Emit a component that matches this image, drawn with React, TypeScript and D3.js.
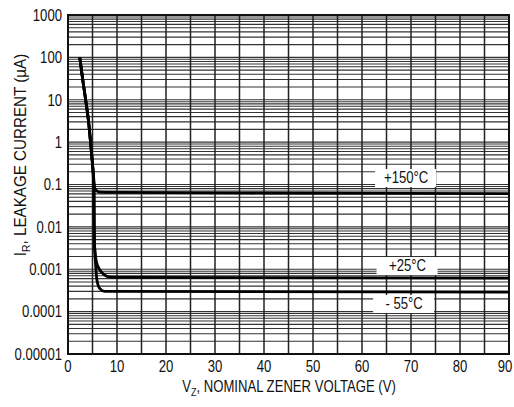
import React from "react";
import * as d3 from "d3";

// ---- data ----
const xTickValues = [0, 10, 20, 30, 40, 50, 60, 70, 80, 90];
const xGridValues = [0, 5, 10, 15, 20, 25, 30, 35, 40, 45, 50, 55, 60, 65, 70, 75, 80, 85, 90];
const yTickValues = [1000, 100, 10, 1, 0.1, 0.01, 0.001, 0.0001, 0.00001];
const yTickLabels = ["1000", "100", "10", "1", "0.1", "0.01", "0.001", "0.0001", "0.00001"];

const curve150: [number, number][] = [
  [2.4, 100], [3.0, 30], [3.6, 10], [4.2, 3], [4.6, 1], [5.0, 0.3], [5.3, 0.1],
  [5.6, 0.075], [6.5, 0.066], [10, 0.065], [40, 0.063], [90, 0.061],
];
const curve25: [number, number][] = [
  [2.4, 100], [3.0, 30], [3.6, 10], [4.2, 3], [4.6, 1], [5.0, 0.3], [5.3, 0.1],
  [5.32, 0.03], [5.35, 0.01], [5.4, 0.004], [5.8, 0.0015], [6.5, 0.00096],
  [7.5, 0.00073], [8.6, 0.00065], [12, 0.00064], [90, 0.00062],
];
const curveM55: [number, number][] = [
  [2.4, 100], [3.0, 30], [3.6, 10], [4.2, 3], [4.6, 1], [5.0, 0.3], [5.3, 0.1],
  [5.32, 0.03], [5.35, 0.01], [5.4, 0.004], [5.6, 0.0015], [5.9, 0.00056],
  [6.5, 0.00035], [7.5, 0.0003], [90, 0.00029],
];
const seriesLabels = ["+150°C", "+25°C", "- 55°C"];
const labelX = [69, 69.3, 68.6];
const labelValue = [0.063, 0.00062, 0.00029];
const labelOffset = [-10, -7, 17];

const W = 514;
const H = 407;
const M = { left: 68, right: 5, top: 15, bottom: 53 };
const FONT = "'Liberation Sans', Arial, sans-serif";
const SX = 0.82;

function T(props: {
  x: number;
  y: number;
  anchor?: "start" | "middle" | "end";
  dy?: string;
  rotate?: number;
  sx?: number;
  children: React.ReactNode;
}) {
  const { x, y, anchor = "start", dy, rotate = 0, sx = SX, children } = props;
  return (
    <text
      transform={`translate(${x},${y}) rotate(${rotate}) scale(${sx},1)`}
      textAnchor={anchor}
      dy={dy}
      fontSize={16}
      fill="#111"
    >
      {children}
    </text>
  );
}

export default function App() {
  const x = d3.scaleLinear().domain([0, 90]).range([M.left, W - M.right]);
  const y = d3.scaleLog().domain([0.00001, 1000]).range([H - M.bottom, M.top]);

  const minor: number[] = [];
  for (let d = -5; d <= 2; d++) {
    for (let k = 1; k <= 9; k++) minor.push(k * Math.pow(10, d));
  }
  minor.push(1000);

  const line = d3
    .line<[number, number]>()
    .x((d) => x(d[0]))
    .y((d) => y(d[1]))
    .curve(d3.curveMonotoneX);

  const x0 = x(0), x1 = x(90), y0 = y(0.00001), y1 = y(1000);

  return (
    <svg
      width={W}
      height={H}
      style={{ position: "fixed", left: 0, top: 0, background: "#fff" }}
      fontFamily={FONT}
    >
      <rect x={0} y={0} width={W} height={H} fill="#fff" />
      {minor.map((v, i) => (
        <line key={"h" + i} x1={x0} x2={x1} y1={y(v)} y2={y(v)} stroke="#333" strokeWidth={1.1} />
      ))}
      {xGridValues.map((v) => (
        <line key={"v" + v} x1={x(v)} x2={x(v)} y1={y0} y2={y1} stroke="#222" strokeWidth={1.5} />
      ))}
      <rect x={x0} y={y1} width={x1 - x0} height={y0 - y1} fill="none" stroke="#111" strokeWidth={2} />

      {[curve150, curve25, curveM55].map((c, i) => (
        <path key={"c" + i} d={line(c) || ""} fill="none" stroke="#000" strokeWidth={2.8} strokeLinejoin="round" />
      ))}

      {seriesLabels.map((s, i) => {
        const cx = x(labelX[i]);
        const by = y(labelValue[i]) + labelOffset[i];
        return (
          <g key={"l" + i}>
            <rect x={cx - 31} y={by - 14} width={61} height={18} fill="#fff" />
            <T x={cx} y={by} anchor="middle">{s}</T>
          </g>
        );
      })}

      {yTickValues.map((v, i) => (
        <T key={"yt" + i} x={x0 - 6} y={y(v)} dy="0.36em" anchor="end">
          {yTickLabels[i]}
        </T>
      ))}
      {xTickValues.map((v) => (
        <T key={"xt" + v} x={Math.min(x(v), 505)} y={y0 + 18} anchor="middle">
          {v}
        </T>
      ))}
      <T x={289} y={392} anchor="middle">
        V<tspan fontSize={11} dy={4}>Z</tspan><tspan dy={-4}>, NOMINAL ZENER VOLTAGE (V)</tspan>
      </T>
      <T x={26} y={155} anchor="middle" rotate={-90} sx={0.95}>
        I<tspan fontSize={11} dy={4}>R</tspan><tspan dy={-4}>, LEAKAGE CURRENT (µA)</tspan>
      </T>
    </svg>
  );
}
